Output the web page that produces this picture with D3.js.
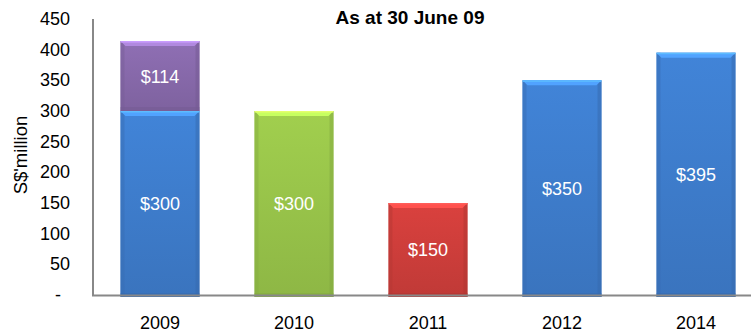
<!DOCTYPE html>
<html>
<head>
<meta charset="utf-8">
<script src="https://cdn.jsdelivr.net/npm/d3@7"></script>
<style>
  html, body { margin: 0; padding: 0; background: #fff; }
  svg { display: block; font-family: "Liberation Sans", Arial, sans-serif; }
</style>
</head>
<body>
<svg id="chart" width="751" height="333"></svg>
<script>
// Maturity profile (S$ million)
const years = ["2009", "2010", "2011", "2012", "2014"];
const baseValues = [300, 300, 150, 350, 395];
const topValues = [114, 0, 0, 0, 0];
const baseColors = ["#3f7fd0", "#9bc84b", "#d23f3c", "#3f7fd0", "#3f7fd0"];
const topColor = "#8a6bae";
const yTicks = [0, 50, 100, 150, 200, 250, 300, 350, 400, 450];

const svg = d3.select("#chart");

const x = d3.scaleBand().domain(years).range([93, 763]).paddingInner(0.41).paddingOuter(0.205);
const y = d3.scaleLinear().domain([0, 450]).range([295, 19]);

// bar gradients: slightly darker towards the base
const defs = svg.append("defs");
function gradId(c) { return "g" + c.slice(1); }
const allColors = Array.from(new Set(baseColors.concat([topColor])));
allColors.forEach(c => {
  const g = defs.append("linearGradient").attr("id", gradId(c))
    .attr("x1", 0).attr("x2", 0).attr("y1", 0).attr("y2", 1);
  g.append("stop").attr("offset", "0%").attr("stop-color", d3.color(c).brighter(0.1));
  g.append("stop").attr("offset", "100%").attr("stop-color", d3.color(c).darker(0.25));
});

const segments = [];
years.forEach((yr, i) => {
  segments.push({ year: yr, y0: 0, y1: baseValues[i], v: baseValues[i], color: baseColors[i] });
  if (topValues[i] > 0)
    segments.push({ year: yr, y0: baseValues[i], y1: baseValues[i] + topValues[i], v: topValues[i], color: topColor });
});

const bw = x.bandwidth();
const g = svg.append("g");
segments.forEach(s => {
  const x0 = x(s.year);
  const yt = y(s.y1);
  const yb = y(s.y0) + (s.y0 === 0 ? 2 : 0);
  const h = yb - yt;
  const c = d3.color(s.color);
  // body
  g.append("rect").attr("x", x0).attr("y", yt).attr("width", bw).attr("height", h)
    .attr("fill", `url(#${gradId(s.color)})`);
  // darker sides
  g.append("rect").attr("x", x0).attr("y", yt).attr("width", 4).attr("height", h)
    .attr("fill", c.darker(0.4)).attr("opacity", 0.5);
  g.append("rect").attr("x", x0 + bw - 4).attr("y", yt).attr("width", 4).attr("height", h)
    .attr("fill", c.darker(0.5)).attr("opacity", 0.5);
  // bevelled top edge
  g.append("path")
    .attr("d", `M${x0},${yt} L${x0 + bw},${yt} L${x0 + bw - 5},${yt + 5} L${x0 + 5},${yt + 5} Z`)
    .attr("fill", c.brighter(0.7));
  g.append("rect").attr("x", x0).attr("y", yt).attr("width", bw).attr("height", 1.5)
    .attr("fill", c.brighter(1.1));
  // darker bottom edge
  g.append("rect").attr("x", x0).attr("y", yb - 4).attr("width", bw).attr("height", 4)
    .attr("fill", c.darker(0.5)).attr("opacity", 0.5);
  // value label
  g.append("text").attr("x", x0 + bw / 2).attr("y", y((s.y0 + s.y1) / 2) + 1)
    .attr("text-anchor", "middle").attr("dominant-baseline", "central")
    .attr("fill", "#fff").attr("font-size", 18).text("$" + s.v);
});

// axis lines
svg.append("line").attr("x1", 93).attr("x2", 93).attr("y1", 19).attr("y2", 296)
  .attr("stroke", "#888").attr("stroke-width", 2);
svg.append("line").attr("x1", 92).attr("x2", 751).attr("y1", 295.5).attr("y2", 295.5)
  .attr("stroke", "#888").attr("stroke-width", 2);

// y tick labels (zero shown as an accounting dash)
svg.append("g").selectAll("text").data(yTicks).join("text")
  .attr("x", d => d === 0 ? 61 : 70).attr("y", d => y(d))
  .attr("text-anchor", "end").attr("dominant-baseline", "central")
  .attr("font-size", 18).attr("fill", "#000")
  .text(d => d === 0 ? "-" : d);

// x labels
svg.append("g").selectAll("text").data(years).join("text")
  .attr("x", d => x(d) + bw / 2).attr("y", 323)
  .attr("text-anchor", "middle").attr("dominant-baseline", "central")
  .attr("font-size", 18).attr("fill", "#000").text(d => d);

// title
svg.append("text").attr("x", 410).attr("y", 17).attr("text-anchor", "middle")
  .attr("dominant-baseline", "central").attr("font-size", 19).attr("font-weight", "bold")
  .text("As at 30 June 09");

// y axis title
svg.append("text").attr("transform", "translate(20,155) rotate(-90)")
  .attr("text-anchor", "middle").attr("dominant-baseline", "central")
  .attr("font-size", 18.5).text("S$'million");
</script>
</body>
</html>
